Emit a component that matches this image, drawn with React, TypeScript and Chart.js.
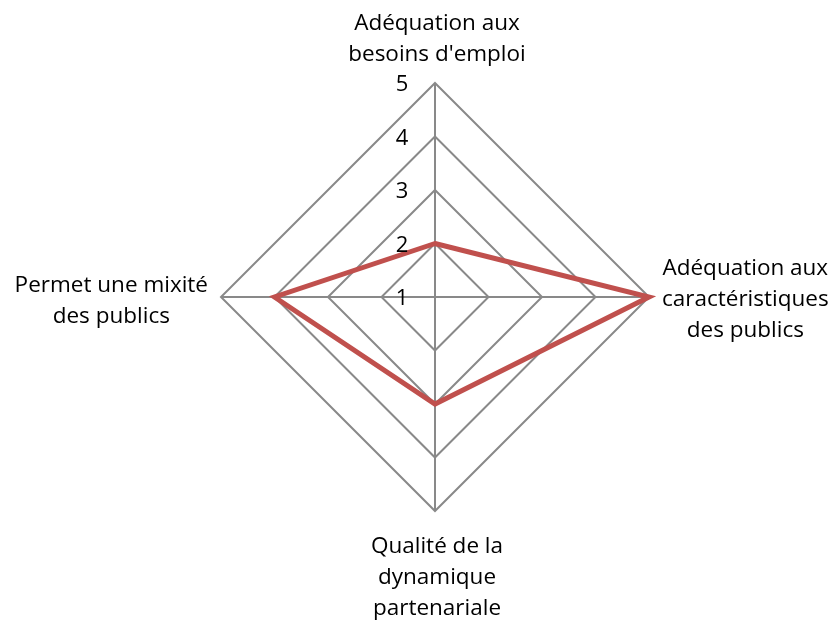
import React, { useEffect, useRef } from "react";
import { Chart, registerables } from "chart.js";

Chart.register(...registerables);

const categories: string[][] = [
  ["Adéquation aux", "besoins d'emploi"],
  ["Adéquation aux", "caractéristiques", "des publics"],
  ["Qualité de la", "dynamique", "partenariale"],
  ["Permet une mixité", "des publics"],
];
const seriesValues: number[] = [2, 5, 3, 4];
const tickMin = 1;
const tickMax = 5;
const tickStep = 1;

const FONT = '22.5px "Open Sans"';
const TICK_FONT = '22px "Open Sans"';
const LINE_H = 31;

const labelPlugin = {
  id: "customRadarLabels",
  afterDatasetsDraw(chart: any) {
    const scale = chart.scales.r;
    const ctx = chart.ctx as CanvasRenderingContext2D;
    ctx.save();
    ctx.fillStyle = "#000";
    ctx.textBaseline = "middle";
    ctx.textAlign = "center";
    ctx.font = TICK_FONT;
    scale.ticks.forEach((t: any) => {
      const d = scale.getDistanceFromCenterForValue(t.value);
      ctx.fillText(String(t.value), scale.xCenter - 33, scale.yCenter - d + 2);
    });
    ctx.font = FONT;
    categories.forEach((lines, i) => {
      const p = scale.getPointPositionForValue(i, scale.max);
      const dx = p.x - scale.xCenter;
      const dy = p.y - scale.yCenter;
      const w = Math.max(...lines.map((l) => ctx.measureText(l).width));
      const h = lines.length * LINE_H;
      let cx: number;
      let top: number;
      if (Math.abs(dx) < 1) {
        cx = p.x + 2;
        top = dy < 0 ? p.y - 13 - h : p.y + 20;
      } else if (dx > 0) {
        cx = p.x + 13 + w / 2;
        top = p.y - h / 2 + 3;
      } else {
        cx = p.x - 13 - w / 2;
        top = p.y - h / 2 + 4;
      }
      lines.forEach((l, k) => {
        ctx.fillText(l, cx, top + LINE_H * k + LINE_H / 2);
      });
    });
    ctx.restore();
  },
};

export default function App() {
  const ref = useRef<HTMLCanvasElement | null>(null);
  useEffect(() => {
    if (!ref.current) return;
    const chart = new Chart(ref.current, {
      type: "radar",
      data: {
        labels: categories,
        datasets: [
          {
            data: seriesValues,
            borderColor: "#C0504D",
            borderWidth: 5,
            fill: false,
            pointRadius: 0,
            pointHoverRadius: 0,
            borderJoinStyle: "miter",
            tension: 0,
          },
        ],
      },
      options: {
        responsive: false,
        animation: false,
        layout: { padding: { left: 221, right: 191, top: 83, bottom: 110 } },
        plugins: { legend: { display: false }, tooltip: { enabled: false } },
        scales: {
          r: {
            min: tickMin,
            max: tickMax,
            ticks: { stepSize: tickStep, display: false },
            pointLabels: { display: false },
            grid: { color: "#898989", lineWidth: 2, circular: false },
            angleLines: { color: "#898989", lineWidth: 2 },
          },
        },
      },
      plugins: [labelPlugin],
    });
    return () => chart.destroy();
  }, []);
  return (
    <div style={{ position: "fixed", left: 0, top: 0, width: 840, height: 621, background: "#fff" }}>
      <canvas ref={ref} width={840} height={621} style={{ display: "block" }} />
    </div>
  );
}
